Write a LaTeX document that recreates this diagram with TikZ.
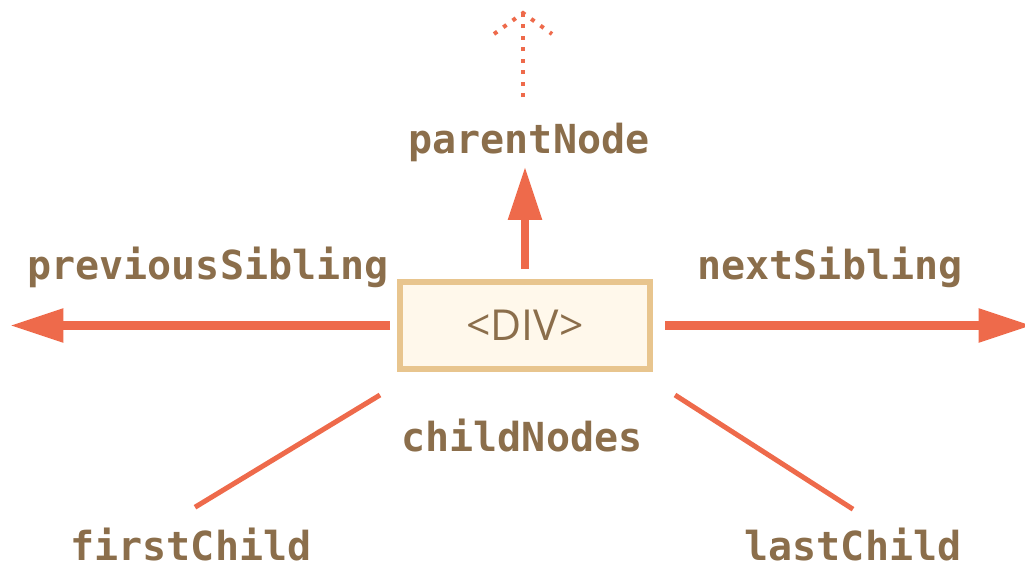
\documentclass[tikz,border=0pt]{standalone}
\usepackage{fontspec}
\usepackage{tikz}
\usetikzlibrary{arrows.meta}
\usetikzlibrary{calc}
\newfontfamily\navfont{DejaVu Sans Mono}
\newfontfamily\tagfont{Open Sans}
\definecolor{navlink}{HTML}{EE6A4B}
\definecolor{navtext}{HTML}{8B6E4B}
\definecolor{elemfill}{HTML}{FFF8EB}
\definecolor{elemdraw}{HTML}{E8C58E}
\tikzset{elem box/.style={draw=elemdraw,fill=elemfill,line width=4.5pt,
    minimum width=187.5pt,minimum height=65.25pt,text=navtext,
    font=\fontsize{32}{38}\selectfont\tagfont}}
\tikzset{nav label/.style={inner sep=0pt,anchor=base,text=navtext,
    font=\fontsize{30}{36}\selectfont\navfont\bfseries}}
\tikzset{nav arrow/.style={draw=navlink,line width=6.4pt,
    -{Triangle[length=40pt,width=24pt]}}}
\tikzset{nav line/.style={draw=navlink,line width=3.75pt}}
\tikzset{nav dots/.style={draw=navlink,line width=3pt,
    dash pattern=on 3pt off 5.6pt}}

\begin{document}
\begin{tikzpicture}[x=0.75pt,y=-0.75pt]
  \useasboundingbox (0,0) rectangle (1025,567);
  \node[elem box] (div) at (525,325.5) {<DIV>};
  \node[nav label] (parent) at (529,153) {parentNode};
  \node[nav label] (prev) at (208,279) {previousSibling};
  \node[nav label] (next) at (830,279) {nextSibling};
  \node[nav label] (kids) at (522,451) {childNodes};
  \node[nav label] (first) at (191,560) {firstChild};
  \node[nav label] (last) at (853,560) {lastChild};
  \coordinate (up) at (523,13);
  \coordinate (prevend) at (10,325.5);
  \coordinate (nextend) at (1032,325.5);
  % parent, siblings
  \draw[nav arrow,shorten <=7.5pt,shorten >=3.75pt]
    (div.north) -- (div.north |- parent.south);
  \draw[nav arrow,shorten <=5.25pt] (div.west) -- (prevend);
  \draw[nav arrow,shorten <=9pt] (div.east) -- (nextend);
  \draw[nav dots,shorten <=19pt] (up |- parent.north) -- (up);
  \draw[nav dots] ($(up)+(-29,21)$) -- (up) -- ($(up)+(29,21)$);
  % children
  \draw[nav line] ($(div.south west)+(-17,23)$) -- ($(first.north)+(4,-20)$);
  \draw[nav line] ($(div.south east)+(22,23)$) -- ($(last.north)+(0,-18)$);
\end{tikzpicture}
\end{document}
